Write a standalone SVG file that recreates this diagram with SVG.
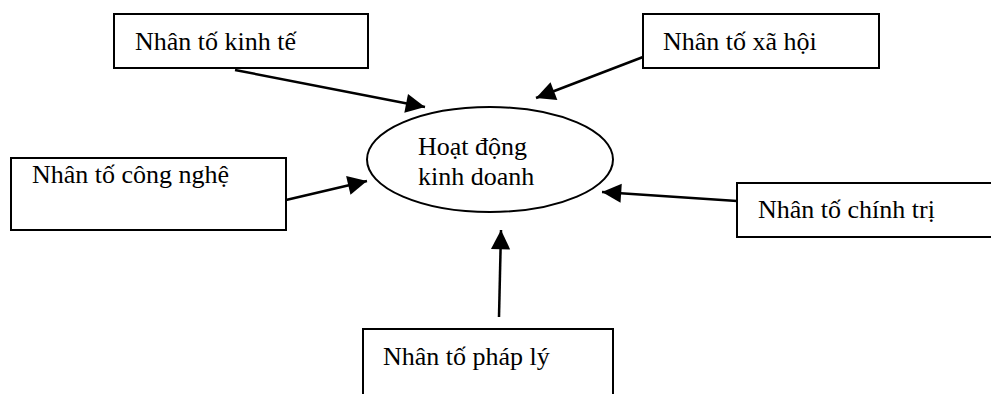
<svg xmlns="http://www.w3.org/2000/svg" width="991" height="394" viewBox="0 0 991 394">
<style>
.box{fill:#fff;stroke:#000;stroke-width:2}
.t{font-family:"Liberation Serif","Times New Roman",serif;font-size:26px;fill:#000}
.c{stroke:#000;stroke-width:2.5;fill:none;marker-end:url(#ah)}
</style>
<defs>
<marker id="ah" viewBox="0 0 10 10" refX="10" refY="5" markerWidth="8" markerHeight="8" markerUnits="userSpaceOnUse" orient="auto" style="overflow:visible">
<path d="M0,0 L10,5 L0,10 z" fill="#000" transform="scale(2.4)" transform-origin="10 5"/>
</marker>
</defs>
<rect width="991" height="394" fill="#fff"/>
<g id="connectors">
<line class="c" x1="235" y1="70" x2="425" y2="107"/>
<line class="c" x1="643" y1="57" x2="536" y2="98"/>
<line class="c" x1="286" y1="200" x2="367" y2="181"/>
<line class="c" x1="737" y1="201" x2="602" y2="192"/>
<line class="c" x1="499" y1="317" x2="501" y2="230"/>
</g>
<g id="center">
<ellipse cx="490" cy="159.5" rx="123" ry="52.5" fill="#fff" stroke="#000" stroke-width="2"/>
<text class="t" x="418" y="155">Hoạt động</text>
<text class="t" x="418" y="185">kinh doanh</text>
</g>
<g id="kinhte">
<rect class="box" x="114" y="14" width="254" height="54"/>
<text class="t" x="135" y="50">Nhân tố kinh tế</text>
</g>
<g id="xahoi">
<rect class="box" x="643" y="14" width="236" height="54"/>
<text class="t" x="663" y="50">Nhân tố xã hội</text>
</g>
<g id="congnghe">
<rect class="box" x="11" y="158" width="275" height="72"/>
<text class="t" x="32" y="183">Nhân tố công nghệ</text>
</g>
<g id="chinhtri">
<rect class="box" x="737" y="183" width="260" height="54"/>
<text class="t" x="758" y="218">Nhân tố chính trị</text>
</g>
<g id="phaply">
<rect class="box" x="363" y="329" width="250" height="80"/>
<text class="t" x="383" y="365">Nhân tố pháp lý</text>
</g>
</svg>
